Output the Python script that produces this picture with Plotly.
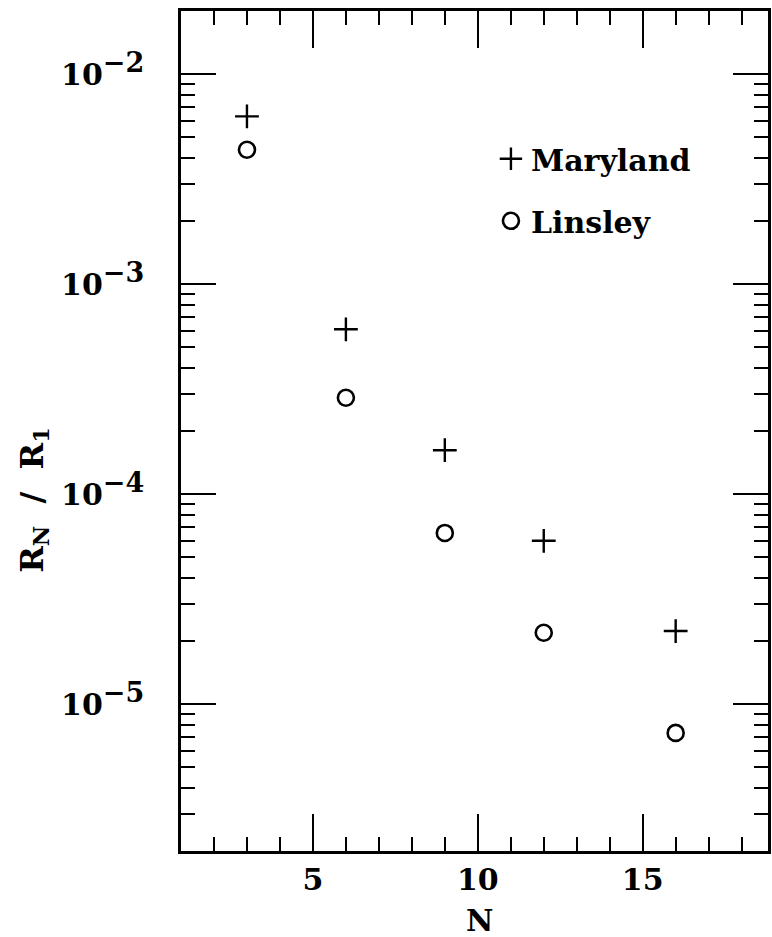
import plotly.graph_objects as go

N = [3, 6, 9, 12, 16]
maryland = [6.3e-3, 6.1e-4, 1.62e-4, 6.0e-5, 2.23e-5]
linsley = [4.37e-3, 2.88e-4, 6.54e-5, 2.19e-5, 7.3e-6]

x_ticks = [5, 10, 15]
y_ticks = [1e-5, 1e-4, 1e-3, 1e-2]
y_exponents = ["−5", "−4", "−3", "−2"]
y_ticktext = ["10<sup><span style='font-size:27px'>%s</span></sup>" % e for e in y_exponents]
decades = [-6, -5, -4, -3, -2]
y_minor = [d * 10.0 ** e for e in decades for d in range(2, 10)]

FONT = "DejaVu Serif"
FS = 30
BOLD = dict(family=FONT, size=FS, color="black", weight="bold")

fig = go.Figure()
fig.add_trace(go.Scatter(
    x=N, y=maryland, mode="markers", name="Maryland", legendgroup="a",
    marker=dict(symbol="cross-thin", size=17, line=dict(width=2.4, color="black"), color="black"),
))
fig.add_trace(go.Scatter(
    x=N, y=linsley, mode="markers", name="Linsley", legendgroup="b",
    marker=dict(symbol="circle-open", size=16, line=dict(width=2.6, color="black"), color="black"),
))

fig.update_layout(
    width=772, height=937,
    margin=dict(l=181, r=1, t=11, b=86),
    paper_bgcolor="white", plot_bgcolor="white",
    font=BOLD,
    showlegend=True,
    legend=dict(x=0.528, y=0.855, xanchor="left", yanchor="top", bgcolor="rgba(0,0,0,0)",
                font=BOLD, traceorder="grouped", tracegroupgap=20),
    xaxis=dict(
        range=[1, 18.8], showline=True, linewidth=2.6, linecolor="black", mirror="allticks",
        showgrid=False, zeroline=False,
        ticks="inside", ticklen=37, tickwidth=2.3, tickcolor="black",
        tickvals=x_ticks, ticktext=[str(v) for v in x_ticks],
        tickfont=BOLD, ticklabelstandoff=0,
        minor=dict(ticks="inside", ticklen=14, tickwidth=2.3, tickcolor="black", dtick=1, showgrid=False),
    ),
    yaxis=dict(
        type="log", range=[-5.699, -1.699], showline=True, linewidth=2.6, linecolor="black",
        mirror="allticks", showgrid=False, zeroline=False,
        ticks="inside", ticklen=35, tickwidth=2.3, tickcolor="black",
        tickvals=y_ticks, ticktext=y_ticktext,
        tickfont=BOLD, ticklabelstandoff=28,
        minor=dict(ticks="inside", ticklen=14, tickwidth=2.3, tickcolor="black", tickvals=y_minor, showgrid=False),
    ),
    annotations=[
        dict(text="R<sub>N</sub>  /  R<sub>1</sub>", textangle=-90, xref="paper", yref="paper",
             x=(33 - 181) / 590, y=(851 - 500) / 840, xanchor="center", yanchor="middle",
             showarrow=False, font=dict(family=FONT, size=32, color="black", weight="bold")),
        dict(text="N", xref="paper", yref="paper", x=(481 - 181) / 590, y=(851 - 921) / 840,
             xanchor="center", yanchor="middle", showarrow=False, font=BOLD),
    ],
)

fig.write_html("out.html")
